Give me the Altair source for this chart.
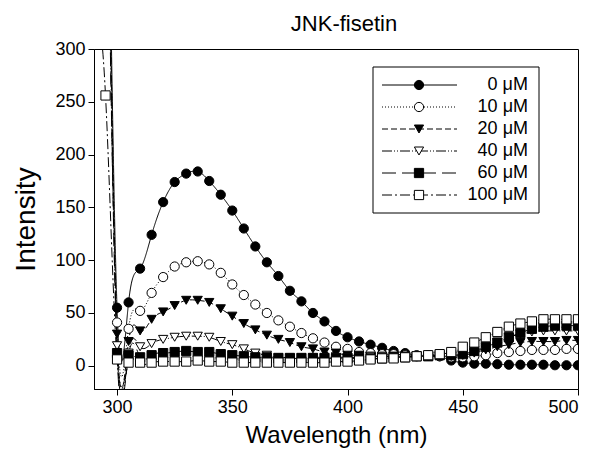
import altair as alt
import pandas as pd

series = ["0 μM", "10 μM", "20 μM", "40 μM", "60 μM", "100 μM"]
wl = list(range(295, 505, 5))
wl100 = list(range(290, 505, 5))

v0 = [700, 55, 60, 92, 124, 155, 174, 182, 184, 175,
      162, 147, 130, 113, 98, 85, 71, 61, 50, 42,
      33, 27, 23, 20, 17, 14, 12, 10, 10, 9,
      5, 3, 2, 2, 1.5, 1, 1, 1, 1, 0.5, 0.5, 0.5]
v10 = [650, 41, 35, 52, 69, 84, 94, 98, 99, 96,
       88, 77, 67, 58, 50, 43, 37, 31, 26, 22,
       18, 16, 13, 12, 11, 11, 10, 9, 10, 9,
       8, 8, 9, 10, 12, 13, 14, 15, 15, 15, 16, 16]
v20 = [650, 30, 23, 33, 44, 51, 57, 62, 62, 60,
       54, 47, 40, 34, 29, 25, 22, 18, 16, 13,
       12, 10, 10, 9, 9, 9, 9, 9, 9, 9,
       9, 10, 12, 15, 18, 20, 22, 23, 23, 23, 24, 24]
v40 = [600, 19, 12, 18, 21, 25, 27, 28, 28, 27,
       23, 20, 16, 12, 10, 8, 8, 8, 8, 8,
       8, 8, 8, 9, 9, 9, 9, 9, 9, 9,
       9, 10, 13, 17, 22, 27, 30, 32, 33, 33, 33, 33]
v60 = [600, 12, 10, 8, 10, 12, 13, 14, 13, 13,
       11, 10, 9, 8, 8, 7, 7, 7, 7, 7,
       7, 7, 7, 7, 7, 8, 8, 9, 9, 10,
       10, 11, 14, 18, 22, 27, 31, 35, 37, 38, 38, 38]
v100 = [350, 256, 6, 3, 3, 3, 4, 4, 4, 5, 4,
        4, 3, 3, 3, 3, 3, 3, 3, 3, 3,
        4, 4, 5, 6, 7, 7, 8, 9, 10, 11,
        13, 18, 22, 27, 32, 37, 40, 42, 44, 44, 44, 44]

xs_all = [wl, wl, wl, wl, wl, wl100]
ys_all = [v0, v10, v20, v40, v60, v100]

rows = []
for name, xs, ys in zip(series, xs_all, ys_all):
    for x, y in zip(xs, ys):
        rows.append({"series": name, "wl": x, "val": y})
df = pd.DataFrame(rows)

dashes = [[1, 0], [1, 2], [6, 3], [10, 2, 1, 2, 1, 2], [14, 6], [10, 3, 2, 3]]
shapes = ["circle", "circle", "triangle-down", "triangle-down", "square", "square"]
fills = ["black", "white", "black", "white", "black", "white"]

FONT = "Liberation Sans"

xenc = alt.X("wl:Q", scale=alt.Scale(domain=[290, 500], nice=False, zero=False),
             axis=alt.Axis(values=[300, 350, 400, 450, 500], title="Wavelength (nm)",
                           titlePadding=7))
yenc = alt.Y("val:Q", scale=alt.Scale(domain=[-22, 300], nice=False, zero=False),
             axis=alt.Axis(values=[0, 50, 100, 150, 200, 250, 300], title="Intensity",
                           titleFontSize=28, titlePadding=14))

lines = alt.Chart(df).mark_line(interpolate="natural", clip=True, color="black",
                                strokeWidth=1).encode(
    x=xenc, y=yenc,
    strokeDash=alt.StrokeDash("series:N", scale=alt.Scale(domain=series, range=dashes),
                              legend=None),
)

points = alt.Chart(df).mark_point(filled=True, clip=True, stroke="black", strokeWidth=1,
                                  opacity=1, size=85).encode(
    x=xenc, y=yenc,
    shape=alt.Shape("series:N", scale=alt.Scale(domain=series, range=shapes), legend=None),
    fill=alt.Fill("series:N", scale=alt.Scale(domain=series, range=fills), legend=None),
)

layers = [lines, points]

# legend box
box = alt.Chart(pd.DataFrame({"k": [0]})).mark_rect(
    fill="white", stroke="black", strokeWidth=1).encode(
    x=alt.value(279), x2=alt.value(445), y=alt.value(18), y2=alt.value(164))
layers.append(box)

row_y = [36, 58, 80, 102, 124, 146]
for i, name in enumerate(series):
    d = pd.DataFrame({"label": [name]})
    ry = row_y[i]
    layers.append(alt.Chart(d).mark_rule(color="black", strokeWidth=1,
                                         strokeDash=dashes[i]).encode(
        x=alt.value(288), x2=alt.value(363), y=alt.value(ry)))
    layers.append(alt.Chart(d).mark_point(shape=shapes[i], filled=True, fill=fills[i],
                                          stroke="black", strokeWidth=1, opacity=1,
                                          size=85).encode(
        x=alt.value(325), y=alt.value(ry)))
    layers.append(alt.Chart(d).mark_text(align="right", baseline="middle", font=FONT,
                                         fontSize=18, color="black").encode(
        x=alt.value(434), y=alt.value(ry), text="label:N"))

chart = alt.layer(*layers).properties(
    width=484, height=340,
    title=alt.TitleParams("JNK-fisetin", font=FONT, fontSize=22, fontWeight="normal",
                          anchor="middle", offset=4, dx=8, color="black"),
    autosize=alt.AutoSizeParams(type="none"),
    padding={"left": 86, "top": 41, "right": 9, "bottom": 61},
).configure_view(stroke="black", strokeWidth=1).configure_axis(
    grid=False, domainColor="black", tickColor="black", labelColor="black",
    titleColor="black", labelFont=FONT, titleFont=FONT, labelFontSize=18,
    titleFontSize=24, titleFontWeight="normal", tickSize=6, labelPadding=3,
    domainWidth=1,
)

chart.save("out.html", embed_options={"renderer": "svg", "actions": False})
